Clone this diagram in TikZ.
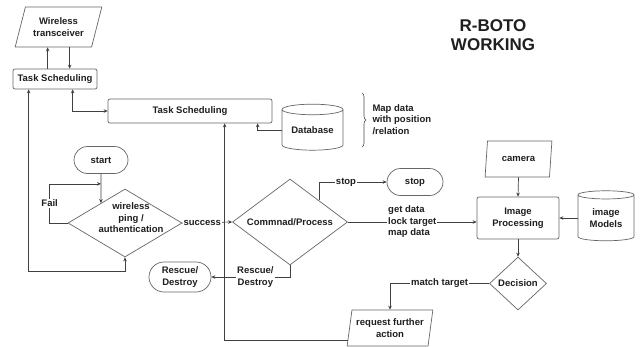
\documentclass[tikz,border=0pt]{standalone}
\usepackage{fontspec}
\setmainfont{Liberation Sans}
\usetikzlibrary{shapes.geometric,shapes.misc,arrows.meta,calc,decorations.pathreplacing}
\begin{document}
\begin{tikzpicture}[x=1pt,y=-1pt,
  every node/.style={font=\fontsize{9.5}{11.5}\selectfont\bfseries, text=black!88},
  box/.style={draw=black!60, line width=0.7pt},
  proc/.style={box, rectangle, rounded corners=2pt, inner sep=0pt, align=center},
  term/.style={box, rounded rectangle, inner sep=0pt, align=center},
  io/.style={box, trapezium, trapezium stretches=true, inner sep=0pt, align=center},
  dia/.style={box, diamond, inner sep=0pt},
  dbs/.style={box, cylinder, shape border rotate=90, aspect=0.25, inner sep=0pt, align=center},
  arr/.style={draw=black!75, line width=0.7pt, -{Stealth[length=4pt,width=3.5pt]}},
  arrb/.style={draw=black!75, line width=0.7pt, {Stealth[length=4pt,width=3.5pt]}-{Stealth[length=4pt,width=3.5pt]}},
  lbl/.style={fill=white, inner sep=1pt, align=center}
]
\useasboundingbox[fill=white] (0,0) rectangle (641,346);

% nodes
\node[io, trapezium left angle=67, trapezium right angle=113, minimum width=87, minimum height=40] (wt) at (58.5,27) {Wireless\\transceiver};
\node[proc, minimum width=84, minimum height=20] (ts1) at (55,79) {Task Scheduling};
\node[proc, minimum width=164, minimum height=24] (ts2) at (190,111) {Task Scheduling};
\node[dbs, minimum width=61, minimum height=46] (db) at (312.5,130) {Database};
\node[align=left, anchor=west] (map) at (369,119.5) {Map data\\with position\\/relation};
\node[font=\fontsize{17}{19.5}\selectfont\bfseries, align=center] (title) at (493,35) {R-BOTO\\WORKING};
\node[term, minimum width=54, minimum height=27] (start) at (101,160) {start};
\node[dia, minimum width=114, minimum height=68] (ping) at (125,223) {};
\node[align=center] (pingt) at (131,218) {wireless\\ping /\\authentication};
\node[dia, minimum width=115, minimum height=86] (cmd) at (290,222) {};
\node (cmdt) at (290,222) {Commnad/Process};
\node[term, minimum width=56, minimum height=27] (stop) at (415,182) {stop};
\node[term, minimum width=62, minimum height=30] (rd) at (180,277) {Rescue/\\Destroy};
\node[io, trapezium left angle=76, trapezium right angle=104, minimum width=67, minimum height=36] (cam) at (518.5,159) {camera};
\node[proc, minimum width=82, minimum height=42] (ip) at (518,218) {Image\\Processing};
\node[dbs, minimum width=56, minimum height=50] (im) at (606,218) {image\\Models};
\node[dia, minimum width=57, minimum height=53] (dec) at (518,283.5) {};
\node (dect) at (518,283.5) {Decision};
\node[io, trapezium left angle=77, trapezium right angle=103, minimum width=86, minimum height=36] (rfa) at (390,328) {request further\\action};

% helper coordinates
\coordinate (a1) at ($(ts1.north west)+(35,0)$);
\coordinate (a2) at ($(ts1.north west)+(57,0)$);
\coordinate (a3) at ($(ts1.south west)+(60,0)$);
\coordinate (a4) at ($(ts1.south west)+(16,0)$);
\coordinate (a5) at ($(ts2.south west)+(117,0)$);
\coordinate (a6) at ($(ts2.south west)+(150,0)$);
\coordinate (j) at ($(start.south)+(0,10)$);
\coordinate (b1) at (362,93);
\coordinate (b2) at (362,147);

% connectors
\draw[arr] (a1) -- (a1 |- wt.south);
\draw[arr] (a2 |- wt.south) -- (a2);
\draw[arrb] (a3) |- (ts2.west);
\draw[arrb] (a4) |- ($(ping.south)+(0,14)$) -- (ping.south);
\draw[arr] (db.180) -| (a6);
\draw[arr] ($(rfa.bottom left corner)!0.17!(rfa.top left corner)$) -| (a5);
\draw[arr] (start.south) -- ($(ping.north)!0.42!(ping.west)$);
\draw[arr] (ping.west) -- ++(-18,0) |- node[lbl, pos=0.25]{Fail} (j);
\draw[arr] (ping.east) -- node[lbl, pos=0.4]{success} (cmd.west);
\draw[arr] (cmd.north east) |- node[lbl, pos=0.7]{stop} (stop.west);
\draw[arr] (cmd.south) |- node[lbl, pos=0.72]{Rescue/\\Destroy} (rd.east);
\draw[arr] (cmd.east) -- node[lbl, align=left]{get data\\lock target\\map data} (cmd.east -| ip.west);
\draw[arr] (cam.south) -- (ip.north);
\draw[arr] (im.180) -- (ip.east);
\draw[arr] (ip.south) -- (dec.north);
\draw[arr] (dec.west) -| node[lbl, pos=0.25]{match target} (rfa.north);
\draw[draw=black!70, line width=0.6pt, decorate, decoration={brace, amplitude=4pt}] (b1) -- (b2);
\end{tikzpicture}
\end{document}
